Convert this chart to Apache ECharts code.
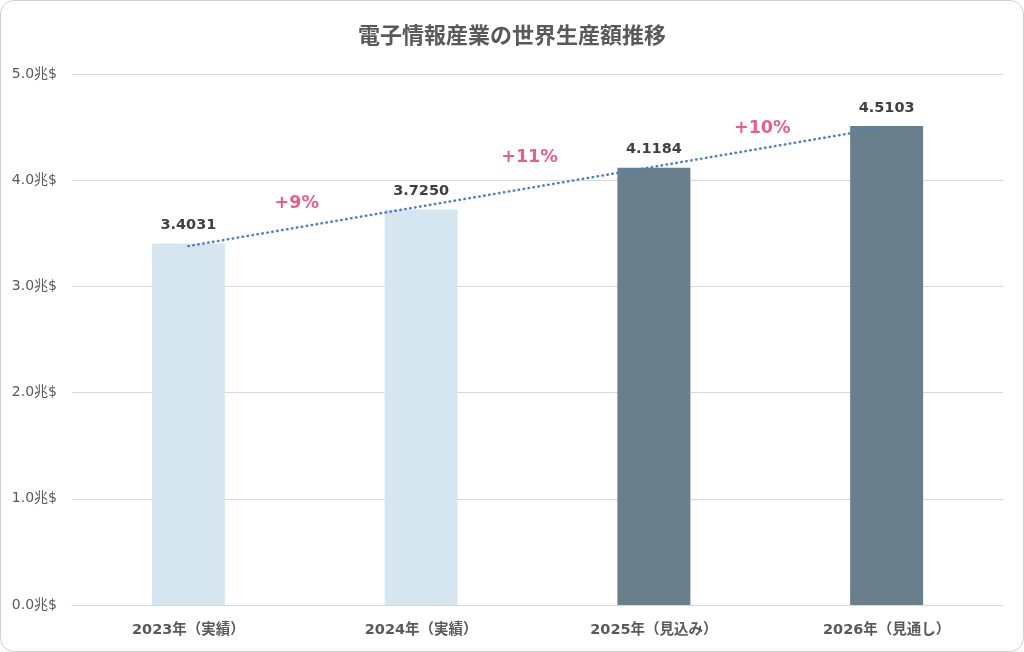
<!DOCTYPE html>
<html>
<head>
<meta charset="utf-8">
<script src="https://cdn.jsdelivr.net/npm/echarts@6/dist/echarts.min.js"></script>
<style>
html, body { margin: 0; padding: 0; background: #fff; }
#main {
	width: 1024px; height: 652px; box-sizing: border-box;
	border: 1px solid #d0d0d0; border-radius: 14px; overflow: hidden;
}
</style>
</head>
<body>
<div id="main"></div>
<script>
// カテゴリ・値
var categories = ['2023年（実績）', '2024年（実績）', '2025年（見込み）', '2026年（見通し）'];
var values = [3.4031, 3.7250, 4.1184, 4.5103];
var barColors = ['#d5e6f0', '#d5e6f0', '#6a7f8c', '#6a7f8c'];
// 近似線（両端）
var trendValues = [3.38, 4.50];
// 伸び率
var growthLabels = ['+9%', '+11%', '+10%'];
var growthY = [3.78, 4.21, 4.49];
var yTicks = [0, 1, 2, 3, 4, 5];

var FONT = '"DejaVu Sans", "Noto Sans CJK JP", sans-serif';

var chart = echarts.init(document.getElementById('main'));

var barData = [];
for (var i = 0; i < values.length; i++) {
	barData.push({ value: values[i], itemStyle: { color: barColors[i] } });
}
var growthData = [];
for (var j = 0; j < growthLabels.length; j++) {
	growthData.push({ value: [j + 1, growthY[j]], name: growthLabels[j] });
}

var option = {
	animation: false,
	textStyle: { fontFamily: FONT },
	title: {
		text: '電子情報産業の世界生産額推移',
		left: 'center',
		top: 20,
		textStyle: { fontFamily: FONT, fontSize: 22, fontWeight: 'bold', color: '#595959' }
	},
	grid: { left: 71, right: 20, top: 73, bottom: 46 },
	xAxis: [
		{
			type: 'category',
			data: categories,
			axisLine: { lineStyle: { color: '#d9d9d9' } },
			axisTick: { show: false },
			axisLabel: { margin: 18, fontSize: 14.5, fontWeight: 'bold', color: '#595959', fontFamily: FONT }
		},
		{
			type: 'value', min: 0, max: 4, show: false
		}
	],
	yAxis: {
		type: 'value',
		min: yTicks[0],
		max: yTicks[yTicks.length - 1],
		interval: 1,
		axisLine: { show: false },
		axisTick: { show: false },
		splitLine: { lineStyle: { color: '#d9d9d9' } },
		axisLabel: {
			margin: 15, fontSize: 14, color: '#595959', fontFamily: FONT,
			formatter: function (v) { return v.toFixed(1) + '兆$'; }
		}
	},
	series: [
		{
			type: 'bar',
			data: barData,
			barWidth: 73,
			label: {
				show: true, position: 'top', distance: 11,
				fontSize: 14.5, fontWeight: 'bold', color: '#404040', fontFamily: FONT,
				formatter: function (p) { return p.value.toFixed(4); }
			}
		},
		{
			type: 'line',
			data: [[0, trendValues[0]], [categories.length - 1, trendValues[1]]],
			symbol: 'none',
			lineStyle: { color: '#4a7fc1', width: 2.5, type: [0.5, 4.5], cap: 'round' },
			z: 5
		},
		{
			type: 'scatter',
			xAxisIndex: 1,
			data: growthData,
			symbolSize: 0,
			label: {
				show: true, position: 'inside', offset: [-8, 0],
				fontSize: 17.5, fontWeight: 'bold', color: '#e0376f', fontFamily: FONT,
				formatter: function (p) { return p.name; }
			}
		}
	]
};

chart.setOption(option);
</script>
</body>
</html>
